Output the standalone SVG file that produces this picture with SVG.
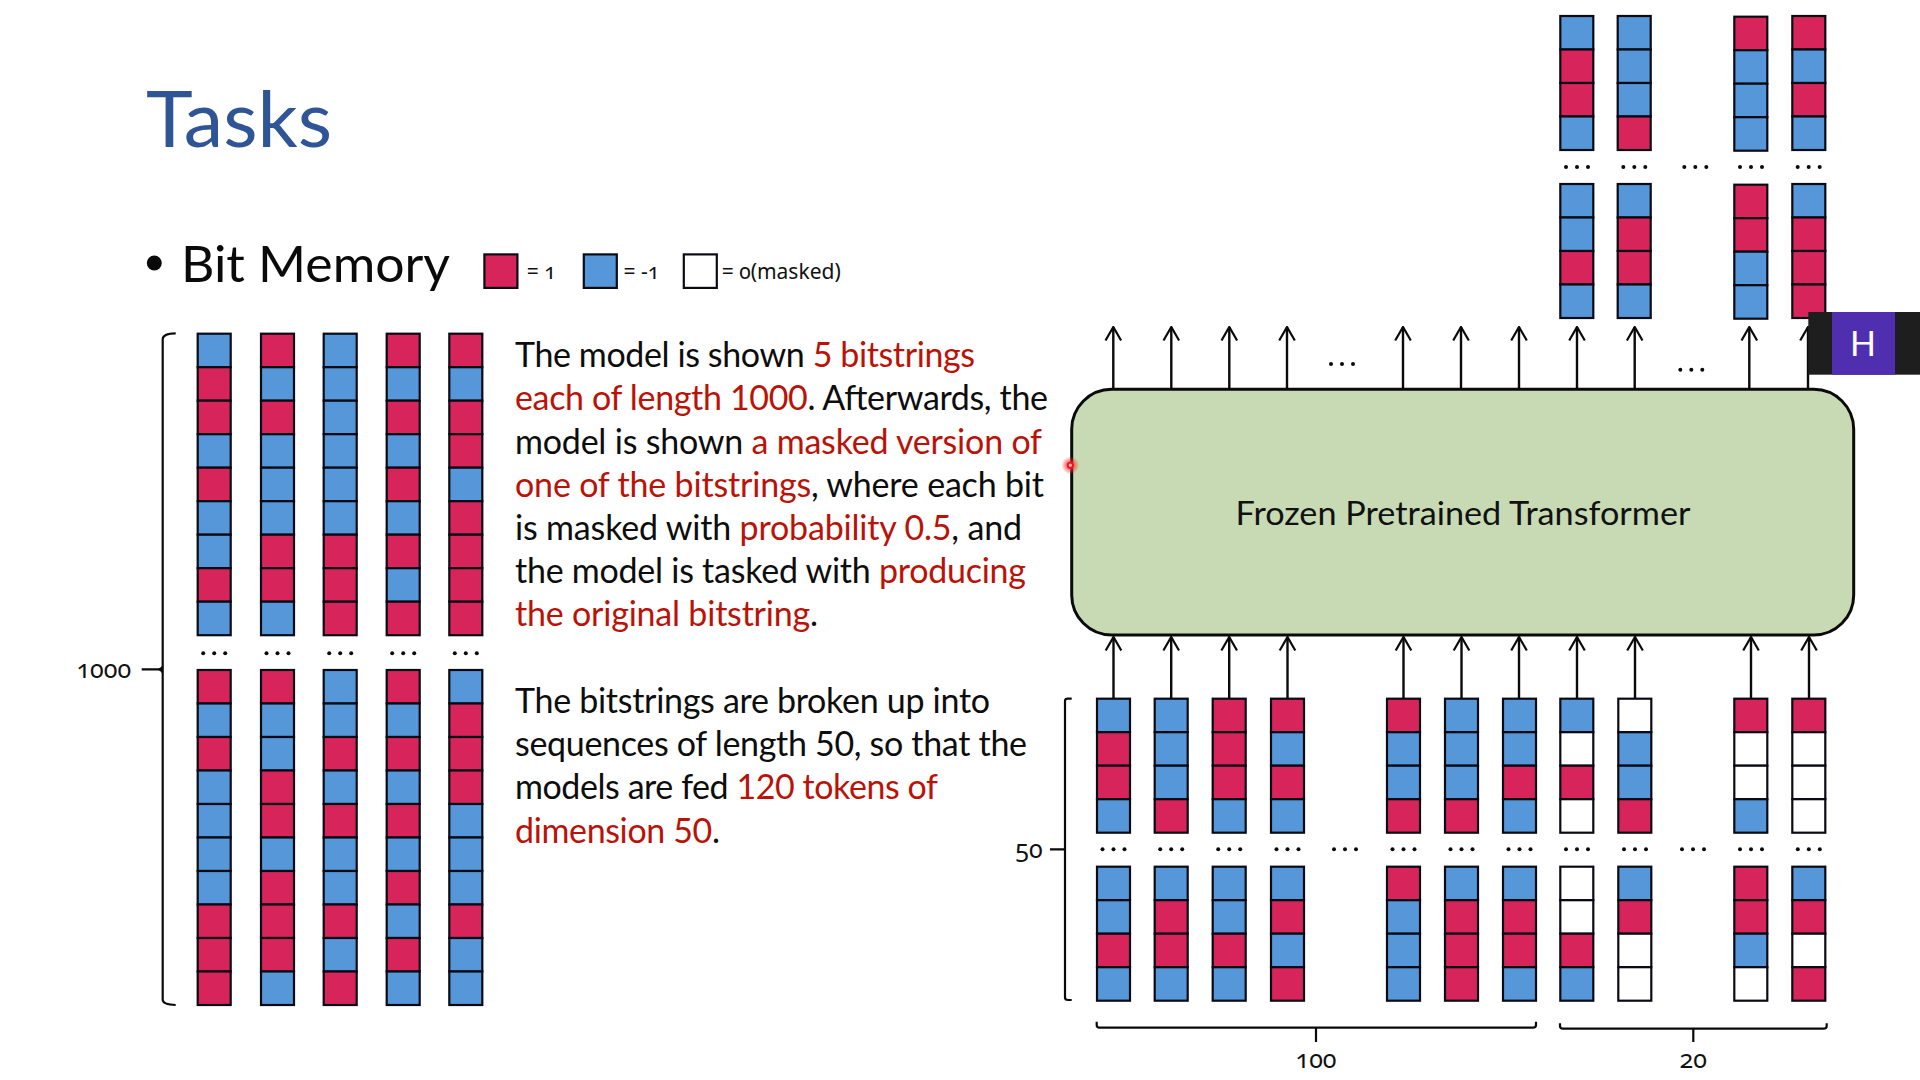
<svg xmlns="http://www.w3.org/2000/svg" width="1920" height="1080" viewBox="0 0 1920 1080">
<style>
.r{fill:#d7255c}.b{fill:#5597d8}.w{fill:#fff}
.r,.b,.w{stroke:#0a0a14;stroke-width:2.2}
.l{fill:none;stroke:#0a0a0a;stroke-width:2.4}
.br{fill:none;stroke:#0a0a0a;stroke-width:2.2}
.t{font-family:Lato,"Noto Sans",sans-serif;fill:#0d0d0d;font-size:34px}
.t tspan{fill:#bb1208}
.n{font-family:"Noto Sans","Open Sans",sans-serif;fill:#111;font-variant-numeric:oldstyle-nums;font-size:25px;text-anchor:middle}
.s{text-anchor:start;font-size:21px}
</style>
<defs>
<rect id="R" class="r" width="33" height="33.5"/>
<rect id="B" class="b" width="33" height="33.5"/>
<rect id="W" class="w" width="33" height="33.5"/>
<g id="dots" fill="#0a0a0a"><circle cx="-11" r="2"/><circle r="2"/><circle cx="11" r="2"/></g>
<marker id="arr" markerUnits="userSpaceOnUse" viewBox="-10 0 20 16" refX="0" refY="1" markerWidth="20" markerHeight="16" orient="0"><path d="M-7.8 14.5 L0 1 L7.8 14.5" fill="none" stroke="#0a0a0a" stroke-width="2.2"/></marker>
<radialGradient id="glow"><stop offset="0.3" stop-color="#ff3030" stop-opacity="0.8"/><stop offset="1" stop-color="#ff3030" stop-opacity="0"/></radialGradient>
</defs>
<rect width="1920" height="1080" fill="#fff"/>
<g id="title"><text x="146" y="146.7" font-family="Lato,sans-serif" font-size="77" fill="#2f5597" textLength="186" lengthAdjust="spacingAndGlyphs">Tasks</text></g>
<g id="bullet">
<circle cx="154.3" cy="263" r="7.5" fill="#0a0a0a"/>
<text x="181" y="281.5" font-family="Lato,sans-serif" font-size="51" fill="#0a0a0a" textLength="269" lengthAdjust="spacingAndGlyphs">Bit Memory</text>
</g>
<g id="legend">
<rect x="484.4" y="254.4" width="33" height="33.5" class="r"/>
<text class="n s" x="526.7" y="279.3">= 1</text>
<rect x="583.8" y="254.4" width="33" height="33.5" class="b"/>
<text class="n s" x="623.5" y="279.3">= -1</text>
<rect x="683.8" y="254.4" width="33" height="33.5" class="w"/>
<text class="n s" x="721.7" y="279.3">= 0(masked)</text>
</g>
<g id="text1">
<text class="t" x="515" y="367.2" textLength="460">The model is shown <tspan>5 bitstrings</tspan></text>
<text class="t" x="515" y="410.4" textLength="533"><tspan>each of length 1000</tspan>. Afterwards, the</text>
<text class="t" x="515" y="453.6" textLength="527">model is shown <tspan>a masked version of</tspan></text>
<text class="t" x="515" y="496.8" textLength="529"><tspan>one of the bitstrings</tspan>, where each bit</text>
<text class="t" x="515" y="540" textLength="507">is masked with <tspan>probability 0.5</tspan>, and</text>
<text class="t" x="515" y="583.2" textLength="511">the model is tasked with <tspan>producing</tspan></text>
<text class="t" x="515" y="626.4" textLength="303"><tspan>the original bitstring</tspan>.</text>
</g>
<g id="text2">
<text class="t" x="515" y="712.9" textLength="475">The bitstrings are broken up into</text>
<text class="t" x="515" y="756.2" textLength="512">sequences of length 50, so that the</text>
<text class="t" x="515" y="799.4" textLength="423">models are fed <tspan>120 tokens of</tspan></text>
<text class="t" x="515" y="842.6" textLength="205"><tspan>dimension 50</tspan>.</text>
</g>
<g id="bitstrings-left">
<g id="L1a" transform="translate(197.7,333.7)"><use href="#B"/><use href="#R" y="33.5"/><use href="#R" y="67"/><use href="#B" y="100.5"/><use href="#R" y="134"/><use href="#B" y="167.5"/><use href="#B" y="201"/><use href="#R" y="234.5"/><use href="#B" y="268"/></g>
<g id="L2a" transform="translate(261,333.7)"><use href="#R"/><use href="#B" y="33.5"/><use href="#R" y="67"/><use href="#B" y="100.5"/><use href="#B" y="134"/><use href="#B" y="167.5"/><use href="#R" y="201"/><use href="#R" y="234.5"/><use href="#B" y="268"/></g>
<g id="L3a" transform="translate(323.7,333.7)"><use href="#B"/><use href="#B" y="33.5"/><use href="#B" y="67"/><use href="#B" y="100.5"/><use href="#B" y="134"/><use href="#B" y="167.5"/><use href="#R" y="201"/><use href="#R" y="234.5"/><use href="#R" y="268"/></g>
<g id="L4a" transform="translate(386.7,333.7)"><use href="#R"/><use href="#B" y="33.5"/><use href="#R" y="67"/><use href="#B" y="100.5"/><use href="#R" y="134"/><use href="#B" y="167.5"/><use href="#R" y="201"/><use href="#B" y="234.5"/><use href="#R" y="268"/></g>
<g id="L5a" transform="translate(449.3,333.7)"><use href="#R"/><use href="#B" y="33.5"/><use href="#R" y="67"/><use href="#R" y="100.5"/><use href="#B" y="134"/><use href="#R" y="167.5"/><use href="#R" y="201"/><use href="#R" y="234.5"/><use href="#R" y="268"/></g>
<g id="L1b" transform="translate(197.7,670)"><use href="#R"/><use href="#B" y="33.5"/><use href="#R" y="67"/><use href="#B" y="100.5"/><use href="#B" y="134"/><use href="#B" y="167.5"/><use href="#B" y="201"/><use href="#R" y="234.5"/><use href="#R" y="268"/><use href="#R" y="301.5"/></g>
<g id="L2b" transform="translate(261,670)"><use href="#R"/><use href="#B" y="33.5"/><use href="#B" y="67"/><use href="#R" y="100.5"/><use href="#R" y="134"/><use href="#B" y="167.5"/><use href="#R" y="201"/><use href="#R" y="234.5"/><use href="#R" y="268"/><use href="#B" y="301.5"/></g>
<g id="L3b" transform="translate(323.7,670)"><use href="#B"/><use href="#B" y="33.5"/><use href="#R" y="67"/><use href="#B" y="100.5"/><use href="#R" y="134"/><use href="#B" y="167.5"/><use href="#B" y="201"/><use href="#R" y="234.5"/><use href="#B" y="268"/><use href="#R" y="301.5"/></g>
<g id="L4b" transform="translate(386.7,670)"><use href="#R"/><use href="#B" y="33.5"/><use href="#R" y="67"/><use href="#B" y="100.5"/><use href="#R" y="134"/><use href="#B" y="167.5"/><use href="#R" y="201"/><use href="#B" y="234.5"/><use href="#R" y="268"/><use href="#B" y="301.5"/></g>
<g id="L5b" transform="translate(449.3,670)"><use href="#B"/><use href="#R" y="33.5"/><use href="#R" y="67"/><use href="#R" y="100.5"/><use href="#B" y="134"/><use href="#B" y="167.5"/><use href="#B" y="201"/><use href="#R" y="234.5"/><use href="#B" y="268"/><use href="#B" y="301.5"/></g>
<g transform="translate(0,653.3)"><use href="#dots" x="214.2"/><use href="#dots" x="277.5"/><use href="#dots" x="340.2"/><use href="#dots" x="403.2"/><use href="#dots" x="465.8"/></g>
</g>
<g id="bracket-left">
<path class="br" d="M175.7 333.3 Q163 333.5 162.7 339 V1000 Q163 1004.6 175.7 1005 M141.7 669.3 H158 Q162 669.3 162.7 666 M158 669.3 Q162 669.5 162.7 673"/>
<text class="n" x="103.8" y="678.3">1000</text>
</g>
<g id="connectors">
<g class="l">
<path d="M1113.3 389V327" marker-end="url(#arr)"/><path d="M1171.3 389V327" marker-end="url(#arr)"/><path d="M1229.3 389V327" marker-end="url(#arr)"/><path d="M1287 389V327" marker-end="url(#arr)"/><path d="M1403 389V327" marker-end="url(#arr)"/><path d="M1461 389V327" marker-end="url(#arr)"/><path d="M1519 389V327" marker-end="url(#arr)"/><path d="M1577 389V327" marker-end="url(#arr)"/><path d="M1634.7 389V327" marker-end="url(#arr)"/><path d="M1749.3 389V327" marker-end="url(#arr)"/><path d="M1808 389V327" marker-end="url(#arr)"/>
<path d="M1113.5 698V637" marker-end="url(#arr)"/><path d="M1171.2 698V637" marker-end="url(#arr)"/><path d="M1229.2 698V637" marker-end="url(#arr)"/><path d="M1287.5 698V637" marker-end="url(#arr)"/><path d="M1403.5 698V637" marker-end="url(#arr)"/><path d="M1461.5 698V637" marker-end="url(#arr)"/><path d="M1519 698V637" marker-end="url(#arr)"/><path d="M1577 698V637" marker-end="url(#arr)"/><path d="M1635 698V637" marker-end="url(#arr)"/><path d="M1751 698V637" marker-end="url(#arr)"/><path d="M1809 698V637" marker-end="url(#arr)"/>
</g>
</g>
<g id="transformer">
<rect x="1071.7" y="389.3" width="782" height="245.7" rx="40" ry="40" fill="#c7dab4" stroke="#0a0a0a" stroke-width="3"/>
<text x="1235.5" y="524.8" font-family="Lato,sans-serif" font-size="32" fill="#111" textLength="455" lengthAdjust="spacingAndGlyphs">Frozen Pretrained Transformer</text>
</g>
<g id="inputs-a">
<g id="Ia1" transform="translate(1097,698.7)"><use href="#B"/><use href="#R" y="33.5"/><use href="#R" y="67"/><use href="#B" y="100.5"/></g>
<g id="Ia2" transform="translate(1154.7,698.7)"><use href="#B"/><use href="#B" y="33.5"/><use href="#B" y="67"/><use href="#R" y="100.5"/></g>
<g id="Ia3" transform="translate(1212.7,698.7)"><use href="#R"/><use href="#R" y="33.5"/><use href="#R" y="67"/><use href="#B" y="100.5"/></g>
<g id="Ia4" transform="translate(1271,698.7)"><use href="#R"/><use href="#B" y="33.5"/><use href="#R" y="67"/><use href="#B" y="100.5"/></g>
<g id="Ia5" transform="translate(1387,698.7)"><use href="#R"/><use href="#B" y="33.5"/><use href="#B" y="67"/><use href="#R" y="100.5"/></g>
<g id="Ia6" transform="translate(1445,698.7)"><use href="#B"/><use href="#B" y="33.5"/><use href="#B" y="67"/><use href="#R" y="100.5"/></g>
<g id="Ia7" transform="translate(1503,698.7)"><use href="#B"/><use href="#B" y="33.5"/><use href="#R" y="67"/><use href="#B" y="100.5"/></g>
<g id="Ia8" transform="translate(1560.3,698.7)"><use href="#B"/><use href="#W" y="33.5"/><use href="#R" y="67"/><use href="#W" y="100.5"/></g>
<g id="Ia9" transform="translate(1618.3,698.7)"><use href="#W"/><use href="#B" y="33.5"/><use href="#B" y="67"/><use href="#R" y="100.5"/></g>
<g id="Ia10" transform="translate(1734.3,698.7)"><use href="#R"/><use href="#W" y="33.5"/><use href="#W" y="67"/><use href="#B" y="100.5"/></g>
<g id="Ia11" transform="translate(1792.3,698.7)"><use href="#R"/><use href="#W" y="33.5"/><use href="#W" y="67"/><use href="#W" y="100.5"/></g>
</g>
<g id="inputs-dots" transform="translate(0,849.3)"><use href="#dots" x="1113.5"/><use href="#dots" x="1171.2"/><use href="#dots" x="1229.2"/><use href="#dots" x="1287.5"/><use href="#dots" x="1345"/><use href="#dots" x="1403.5"/><use href="#dots" x="1461.5"/><use href="#dots" x="1519.5"/><use href="#dots" x="1577"/><use href="#dots" x="1635"/><use href="#dots" x="1693"/><use href="#dots" x="1751"/><use href="#dots" x="1808.8"/></g>
<g id="inputs-b">
<g id="Ib1" transform="translate(1097,866.7)"><use href="#B"/><use href="#B" y="33.5"/><use href="#R" y="67"/><use href="#B" y="100.5"/></g>
<g id="Ib2" transform="translate(1154.7,866.7)"><use href="#B"/><use href="#R" y="33.5"/><use href="#R" y="67"/><use href="#B" y="100.5"/></g>
<g id="Ib3" transform="translate(1212.7,866.7)"><use href="#B"/><use href="#B" y="33.5"/><use href="#R" y="67"/><use href="#B" y="100.5"/></g>
<g id="Ib4" transform="translate(1271,866.7)"><use href="#B"/><use href="#R" y="33.5"/><use href="#B" y="67"/><use href="#R" y="100.5"/></g>
<g id="Ib5" transform="translate(1387,866.7)"><use href="#R"/><use href="#B" y="33.5"/><use href="#B" y="67"/><use href="#B" y="100.5"/></g>
<g id="Ib6" transform="translate(1445,866.7)"><use href="#B"/><use href="#R" y="33.5"/><use href="#R" y="67"/><use href="#R" y="100.5"/></g>
<g id="Ib7" transform="translate(1503,866.7)"><use href="#B"/><use href="#R" y="33.5"/><use href="#R" y="67"/><use href="#B" y="100.5"/></g>
<g id="Ib8" transform="translate(1560.3,866.7)"><use href="#W"/><use href="#W" y="33.5"/><use href="#R" y="67"/><use href="#B" y="100.5"/></g>
<g id="Ib9" transform="translate(1618.3,866.7)"><use href="#B"/><use href="#R" y="33.5"/><use href="#W" y="67"/><use href="#W" y="100.5"/></g>
<g id="Ib10" transform="translate(1734.3,866.7)"><use href="#R"/><use href="#R" y="33.5"/><use href="#B" y="67"/><use href="#W" y="100.5"/></g>
<g id="Ib11" transform="translate(1792.3,866.7)"><use href="#B"/><use href="#R" y="33.5"/><use href="#W" y="67"/><use href="#R" y="100.5"/></g>
</g>
<g id="outputs-a">
<g id="Oa8" transform="translate(1560.3,16)"><use href="#B"/><use href="#R" y="33.5"/><use href="#R" y="67"/><use href="#B" y="100.5"/></g>
<g id="Oa9" transform="translate(1617.7,16)"><use href="#B"/><use href="#B" y="33.5"/><use href="#B" y="67"/><use href="#R" y="100.5"/></g>
<g id="Oa10" transform="translate(1734.3,16.7)"><use href="#R"/><use href="#B" y="33.5"/><use href="#B" y="67"/><use href="#B" y="100.5"/></g>
<g id="Oa11" transform="translate(1792.3,16)"><use href="#R"/><use href="#B" y="33.5"/><use href="#R" y="67"/><use href="#B" y="100.5"/></g>
</g>
<g id="outputs-dots" transform="translate(0,167)"><use href="#dots" x="1577"/><use href="#dots" x="1634.3"/><use href="#dots" x="1695.3"/><use href="#dots" x="1751"/><use href="#dots" x="1808.7"/></g>
<g id="outputs-b">
<g id="Ob8" transform="translate(1560.3,184)"><use href="#B"/><use href="#B" y="33.5"/><use href="#R" y="67"/><use href="#B" y="100.5"/></g>
<g id="Ob9" transform="translate(1617.7,184)"><use href="#B"/><use href="#R" y="33.5"/><use href="#R" y="67"/><use href="#B" y="100.5"/></g>
<g id="Ob10" transform="translate(1734.3,184.7)"><use href="#R"/><use href="#R" y="33.5"/><use href="#B" y="67"/><use href="#B" y="100.5"/></g>
<g id="Ob11" transform="translate(1792.3,184)"><use href="#B"/><use href="#R" y="33.5"/><use href="#R" y="67"/><use href="#R" y="100.5"/></g>
</g>
<g id="arrow-dots"><use href="#dots" x="1342" y="364"/><use href="#dots" x="1691.3" y="369.7"/></g>
<g id="bracket-50">
<path class="br" d="M1071.7 698.7 H1068 Q1065 698.7 1065 701 V997.5 Q1065 1000 1068 1000 H1071.7 M1050 849.3 H1065"/>
<text class="n" x="1029" y="858.3">50</text>
</g>
<g id="bracket-100">
<path class="br" d="M1096.7 1021.7 V1025 Q1096.7 1027.7 1099.5 1027.7 H1533 Q1536 1027.7 1536 1025 V1021.7 M1316 1027.7 V1042"/>
<text class="n" x="1316" y="1067.7">100</text>
</g>
<g id="bracket-20">
<path class="br" d="M1560 1023.3 V1026 Q1560 1028.7 1563 1028.7 H1823.7 Q1826.7 1028.7 1826.7 1026 V1023.3 M1693.3 1028.7 V1042"/>
<text class="n" x="1693.3" y="1067.7">20</text>
</g>
<g id="webcam-badge">
<rect x="1808.3" y="312" width="111.7" height="62.7" fill="#1e1e1e"/>
<rect x="1832" y="312" width="63" height="62.7" fill="#4f2fb0"/>
<text x="1863" y="356" font-family="Lato,'Noto Sans',sans-serif" font-size="34" fill="#fff" text-anchor="middle">H</text>
</g>
<g id="pointer">
<circle cx="1070.3" cy="465.3" r="9" fill="url(#glow)"/>
<circle cx="1070.3" cy="465.3" r="2.6" fill="#ffb0b0" stroke="#f01020" stroke-width="1.8"/>
</g>
</svg>
